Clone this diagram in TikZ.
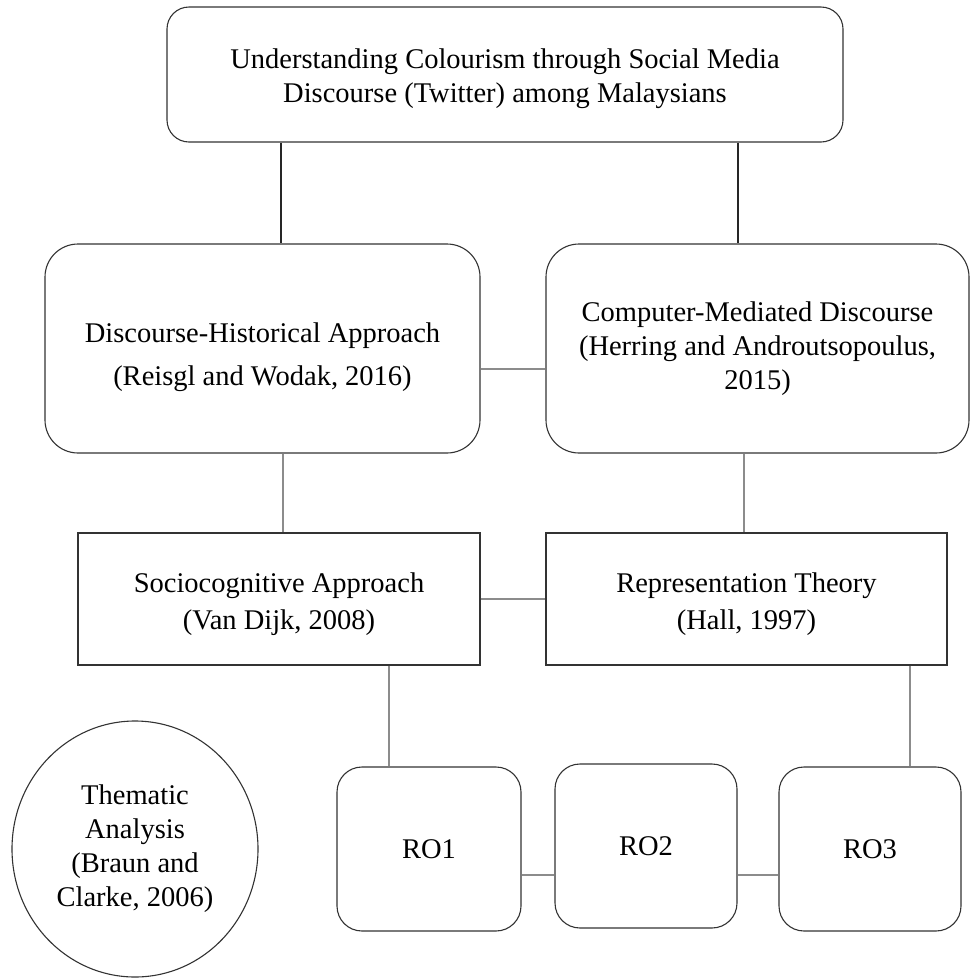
\documentclass[tikz,border=0pt]{standalone}
\usepackage{fontspec}
\setmainfont{Liberation Serif}
\usetikzlibrary{shapes.geometric}
\tikzset{
  boxbase/.style={draw=black!80, line width=1.1pt, fill=white, align=center, inner sep=0pt},
  roundbox/.style={boxbase, rectangle, rounded corners=#1},
  sharpbox/.style={boxbase, rectangle},
  circbox/.style={boxbase, ellipse},
  txtnode/.style={align=center, inner sep=0pt},
  darkline/.style={draw=black!85, line width=1.1pt},
  greyline/.style={draw=black!45, line width=1.1pt},
  fs/.style={font={\fontsize{28.5}{#1}\selectfont}},
}
\begin{document}
\begin{tikzpicture}[x=1pt,y=-1pt]
\useasboundingbox (0,0) rectangle (971,978);

\node[roundbox=22pt, minimum width=676pt, minimum height=135pt] (top) at (505,74.5) {};
\node[txtnode, fs=34, yshift=-4pt] (topT) at (top.center)
  {Understanding Colourism through Social Media\\Discourse (Twitter) among Malaysians};

\node[roundbox=33pt, minimum width=435pt, minimum height=209pt] (dha) at (262.5,348.5) {};
\node[txtnode, fs=43, yshift=-9pt] (dhaT) at (dha.center)
  {Discourse-Historical Approach\\(Reisgl and Wodak, 2016)};

\node[roundbox=33pt, minimum width=423pt, minimum height=209pt] (cmd) at (757.5,348.5) {};
\node[txtnode, fs=34] (cmdT) at (cmd.center)
  {Computer-Mediated Discourse\\(Herring and Androutsopoulus,\\2015)};

\node[sharpbox, minimum width=402pt, minimum height=132pt] (soc) at (279,599) {};
\node[txtnode, fs=37, yshift=-5pt] (socT) at (soc.center)
  {Sociocognitive Approach\\(Van Dijk, 2008)};

\node[sharpbox, minimum width=401pt, minimum height=132pt] (rep) at (746.5,599) {};
\node[txtnode, fs=37, yshift=-5pt] (repT) at (rep.center)
  {Representation Theory\\(Hall, 1997)};

\node[roundbox=25pt, fs=34, minimum width=184pt, minimum height=164pt] (ro1) at (429,849)
  {RO1};
\node[roundbox=25pt, fs=34, minimum width=182pt, minimum height=164pt] (ro2) at (646,846)
  {RO2};
\node[roundbox=25pt, fs=34, minimum width=182pt, minimum height=164pt] (ro3) at (870,849)
  {RO3};

\node[circbox, fs=34, minimum width=246pt, minimum height=256pt] (ta) at (135,849)
  {Thematic\\Analysis\\(Braun and\\Clarke, 2006)};

% helper coordinates
\coordinate (v1) at (281,0);
\coordinate (v2) at (738,0);
\coordinate (v3) at (283,0);
\coordinate (v4) at (744,0);
\coordinate (v5) at (389,0);
\coordinate (v6) at (910,0);
\coordinate (h1) at (0,369);
\coordinate (h2) at (0,599);
\coordinate (h3) at (0,875);

\draw[darkline] (top.south -| v1) -- (dha.north -| v1);
\draw[darkline] (top.south -| v2) -- (cmd.north -| v2);
\draw[greyline] (dha.east |- h1) -- (cmd.west |- h1);
\draw[greyline] (dha.south -| v3) -- (soc.north -| v3);
\draw[greyline] (cmd.south -| v4) -- (rep.north -| v4);
\draw[greyline] (soc.east |- h2) -- (rep.west |- h2);
\draw[greyline] (soc.south -| v5) -- (ro1.north -| v5);
\draw[greyline] (rep.south -| v6) -- (ro3.north -| v6);
\draw[greyline] (ro1.east |- h3) -- (ro2.west |- h3);
\draw[greyline] (ro2.east |- h3) -- (ro3.west |- h3);
\end{tikzpicture}
\end{document}
